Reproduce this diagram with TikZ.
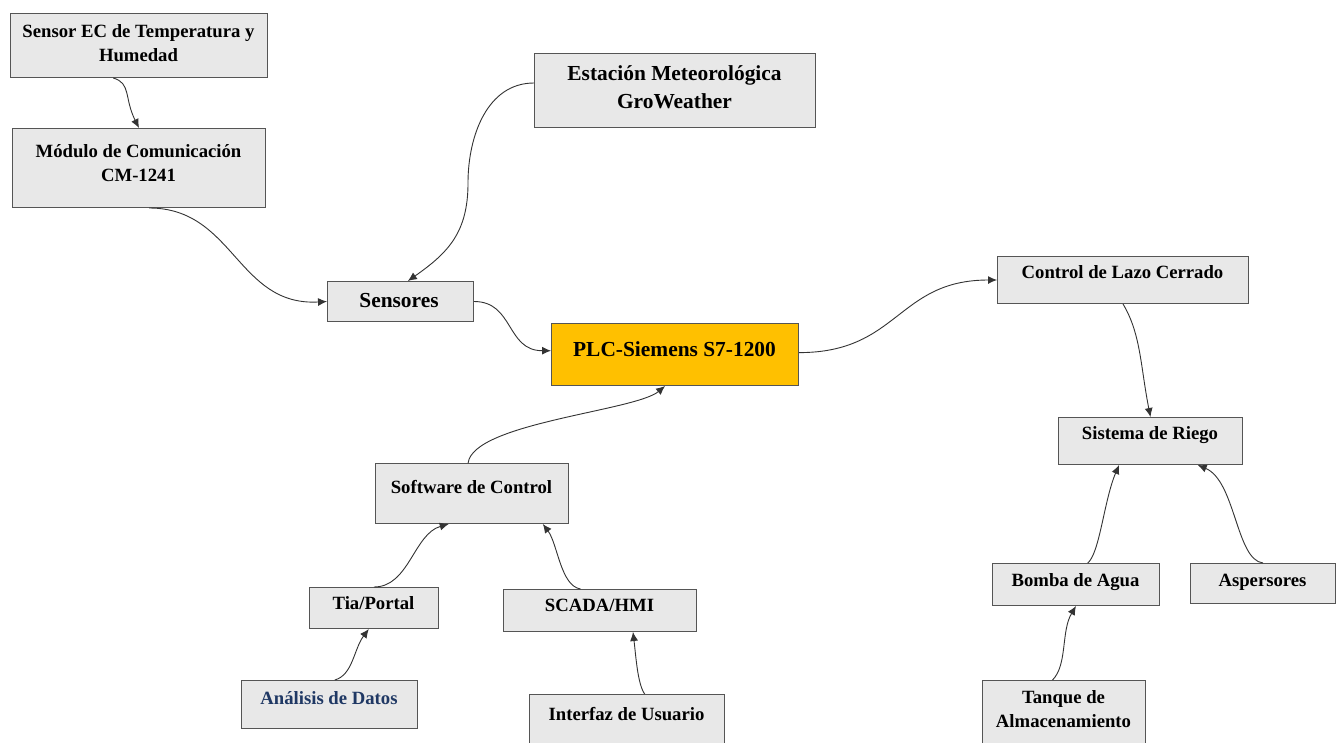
\documentclass[tikz,border=0pt]{standalone}
\usepackage{fontspec}
\setmainfont{Liberation Serif}
\usetikzlibrary{arrows.meta,calc}
\definecolor{boxfill}{RGB}{232,232,232}
\definecolor{boxline}{RGB}{85,85,85}
\definecolor{plcfill}{RGB}{255,192,0}
\definecolor{linecol}{RGB}{51,51,51}
\definecolor{darkblue}{RGB}{31,56,100}
\tikzset{
  box/.style={draw=boxline, line width=1pt, fill=boxfill, rectangle, inner sep=0pt, anchor=north west},
  txt/.style={inner sep=0pt, align=center, font=\bfseries\fontsize{18.7}{24}\selectfont, anchor=base},
  bigtxt/.style={inner sep=0pt, align=center, font=\bfseries\fontsize{21.4}{28}\selectfont, anchor=base},
  conn/.style={draw=linecol, line width=0.9pt, -{Latex[length=9pt,width=8pt]}}
}
\newcommand{\bxx}[6]{% name, x1, y1, x2, y2, extra style
  \node[box, minimum width={#4-#2}, minimum height={#5-#3}, #6] (#1) at (#2,-#3) {};}
\begin{document}
\begin{tikzpicture}[x=1pt,y=1pt]
\useasboundingbox (0,0) rectangle (1336,-742);
\fill[white] (0,0) rectangle (1336,-742);
% boxes
\bxx{sen}{10}{13}{267}{77}{}
\bxx{mod}{12}{128}{265}{207}{}
\bxx{est}{534}{53}{815}{127}{}
\bxx{sns}{327}{281}{473}{321}{}
\bxx{plc}{551}{323}{798}{385}{fill=plcfill}
\bxx{ctl}{997}{256}{1248}{303}{}
\bxx{rie}{1058}{417}{1242}{464}{}
\bxx{bom}{992}{563}{1159}{605}{}
\bxx{asp}{1190}{563}{1335}{603}{}
\bxx{tan}{982}{680}{1145}{760}{}
\bxx{sw}{375}{463}{568}{523}{}
\bxx{tia}{309}{587}{438}{628}{}
\bxx{sca}{503}{589}{696}{631}{}
\bxx{ana}{241}{680}{417}{728}{}
\bxx{int}{529}{694}{724}{760}{}
% texts (anchor base = baseline of last line)
\node[txt] (sen-t) at (138.5,-61) {Sensor EC de Temperatura y\\Humedad};
\node[txt] (mod-t) at (138.5,-181) {Módulo de Comunicación\\CM-1241};
\node[bigtxt] (est-t) at (674.5,-108) {Estación Meteorológica\\GroWeather};
\node[bigtxt] (sns-t) at (399,-307) {Sensores};
\node[bigtxt] (plc-t) at (674.5,-356) {PLC-Siemens S7-1200};
\node[txt] (ctl-t) at (1122.5,-278) {Control de Lazo Cerrado};
\node[txt] (rie-t) at (1150,-439) {Sistema de Riego};
\node[txt] (bom-t) at (1075.5,-586) {Bomba de Agua};
\node[txt] (asp-t) at (1262.5,-586) {Aspersores};
\node[txt] (tan-t) at (1063.5,-727) {Tanque de\\Almacenamiento};
\node[txt] (sw-t) at (471.5,-493) {Software de Control};
\node[txt] (tia-t) at (373.5,-609) {Tia/Portal};
\node[txt] (sca-t) at (599.5,-611) {SCADA/HMI};
\node[txt, text=darkblue] (ana-t) at (329,-704) {Análisis de Datos};
\node[txt] (int-t) at (626.5,-720) {Interfaz de Usuario};
% connectors
\draw[conn] ($(sen.south west)!0.40!(sen.south east)$) .. controls +(18,-5) and +(-15,30) .. (mod.north);
\draw[conn] ($(mod.south west)!0.54!(mod.south east)$) .. controls +(85,0) and +(-90,-5) .. (sns.west);
\draw[conn] ($(est.north west)!0.4!(est.south west)$) to[out=180,in=90] ++(-66,-100) to[out=-90,in=35,looseness=1.1] ($(sns.north west)!0.55!(sns.north east)$);
\draw[conn] (sns.east) .. controls +(40,0) and +(-45,0) .. ($(plc.north west)!0.44!(plc.south west)$);
\draw[conn] ($(plc.north east)!0.47!(plc.south east)$) .. controls +(100,0) and +(-100,0) .. (ctl.west);
\draw[conn] (ctl.south) .. controls +(18,-30) and +(-10,50) .. (rie.north);
\draw[conn] ($(bom.north west)!0.57!(bom.north east)$) .. controls +(12,10) and +(-15,-35) .. ($(rie.south west)!0.33!(rie.south east)$);
\draw[conn] (asp.north) .. controls +(-27,3) and +(38,-16) .. ($(rie.south west)!0.755!(rie.south east)$);
\draw[conn] ($(tan.north west)!0.43!(tan.north east)$) .. controls +(15,15) and +(-15,-25) .. (bom.south);
\draw[conn] ($(sw.north west)!0.48!(sw.north east)$) .. controls +(5,40) and +(-30,-25) .. ($(plc.south west)!0.46!(plc.south east)$);
\draw[conn] (tia.north) .. controls +(35,0) and +(-35,-10) .. ($(sw.south west)!0.38!(sw.south east)$);
\draw[conn] ($(sca.north west)!0.40!(sca.north east)$) .. controls +(-20,3) and +(15,-20) .. ($(sw.south west)!0.865!(sw.south east)$);
\draw[conn] ($(ana.north west)!0.53!(ana.north east)$) .. controls +(18,5) and +(-15,-20) .. ($(tia.south west)!0.46!(tia.south east)$);
\draw[conn] ($(int.north west)!0.59!(int.north east)$) .. controls +(-7,10) and +(3,-25) .. ($(sca.south west)!0.67!(sca.south east)$);
\end{tikzpicture}
\end{document}
